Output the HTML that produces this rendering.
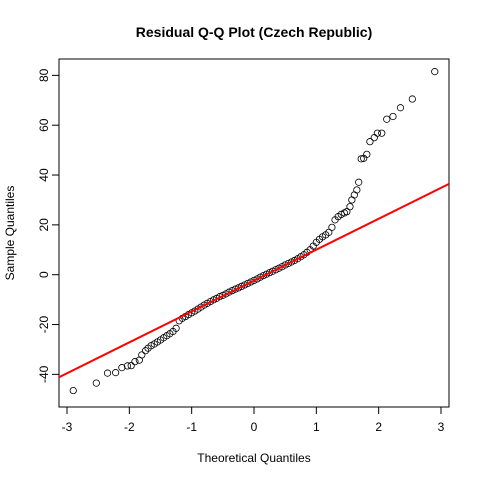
<!DOCTYPE html>
<html><head><meta charset="utf-8"><style>body{margin:0;background:#fff}svg{display:block;font-family:"Liberation Sans",Arial,sans-serif}</style></head>
<body>
<svg id="chart" width="480" height="480" viewBox="0 0 480 480"></svg>
<script>
const xTicks=[-3,-2,-1,0,1,2,3];
const yTicks=[-40,-20,0,20,40,60,80];
const theo=[-2.90,-2.53,-2.35,-2.22,-2.12,-2.03,-1.97,-1.91,-1.84,-1.80,-1.74,
-1.70,-1.65,-1.60,-1.55,-1.50,-1.45,-1.40,-1.35,-1.30,-1.25,-1.20,-1.15,-1.10,-1.05,-1.00,-0.95,-0.90,-0.85,-0.80,-0.75,-0.70,-0.65,-0.60,-0.55,-0.50,-0.45,-0.40,-0.35,-0.30,-0.25,-0.20,-0.15,-0.10,-0.05,0.00,0.05,0.10,0.15,0.20,0.25,0.30,0.35,0.40,0.45,0.50,0.55,0.60,0.65,0.70,0.75,0.80,0.85,0.90,0.95,1.00,1.05,1.10,1.15,1.20,1.25,1.30,1.35,1.40,1.45,
1.49,1.54,1.57,1.61,1.65,1.68,1.72,1.76,1.81,1.86,1.93,1.98,2.05,2.13,2.23,2.35,2.54,2.90];
const sample=[-46.5,-43.5,-39.5,-39.3,-37.3,-36.6,-36.5,-34.9,-34.3,-32.2,-30.5,
-29.5,-28.5,-27.8,-27,-26.2,-25.3,-24.5,-23.7,-22.8,-21.5,-18.5,-17.5,-16.8,-16,-15.3,-14.6,-13.8,-13,-12.2,-11.5,-10.8,-10.1,-9.5,-8.8,-8.3,-7.7,-7.0,-6.4,-5.8,-5.3,-4.7,-4.1,-3.5,-2.9,-2.3,-1.7,-1.0,-0.4,0.2,0.8,1.4,2.0,2.6,3.2,3.9,4.5,5.1,5.7,6.4,7.2,8.0,9.0,10.0,11.5,13,14.2,15.2,16,17,19,22,23.3,24.2,24.8,
25.3,27.3,30,32,34,37.1,46.5,46.7,48.3,53.4,55,56.8,56.8,62.4,63.5,67,70.5,81.5];
const lineIntercept=-2.35, lineSlope=12.4;
const NS="http://www.w3.org/2000/svg";
const svg=document.getElementById('chart');
const L=59,R=449,T=59,B=407;
const sx=v=>254+v*62.33;
const sy=v=>274.7-v*2.4917;
function mk(tag,attrs,parent){const e=document.createElementNS(NS,tag);for(const k in attrs)e.setAttribute(k,attrs[k]);(parent||svg).appendChild(e);return e;}
let t=mk('text',{x:254,y:37,'text-anchor':'middle','font-size':14,'font-weight':'bold'});t.textContent='Residual Q-Q Plot (Czech Republic)';


t=mk('text',{x:254,y:462,'text-anchor':'middle','font-size':12});t.textContent='Theoretical Quantiles';


t=mk('text',{x:0,y:0,'text-anchor':'middle','font-size':12,transform:'translate(14,233) rotate(-90)'});t.textContent='Sample Quantiles';


const xa=mk('g',{});


mk('line',{x1:sx(xTicks[0]),x2:sx(xTicks[xTicks.length-1]),y1:B,y2:B,stroke:'#000'},xa);
xTicks.forEach(v=>{mk('line',{x1:sx(v),x2:sx(v),y1:B,y2:B+7,stroke:'#000'},xa);const tx=mk('text',{x:sx(v),y:B+24,'text-anchor':'middle','font-size':12},xa);tx.textContent=v;

});
const ya=mk('g',{});


mk('line',{x1:L,x2:L,y1:sy(yTicks[0]),y2:sy(yTicks[yTicks.length-1]),stroke:'#000'},ya);
yTicks.forEach(v=>{mk('line',{x1:L,x2:L-7,y1:sy(v),y2:sy(v),stroke:'#000'},ya);const tx=mk('text',{x:0,y:0,'text-anchor':'middle','font-size':12,transform:`translate(${L-11},${sy(v)}) rotate(-90)`},ya);tx.textContent=v;

});
const box=mk('rect',{x:L,y:T,width:R-L,height:B-T,fill:'none',stroke:'#000'});


const pts=mk('g',{});


theo.forEach((v,i)=>{const c=mk('circle',{cx:sx(v),cy:sy(sample[i]),r:3.2,fill:'none',stroke:'#000','stroke-width':0.8},pts);

});
const clip=mk('clipPath',{id:'cp'});mk('rect',{x:L,y:T,width:R-L,height:B-T},clip);
const xl=(L-254)/62.33,xr=(R-254)/62.33;
const ln=mk('line',{x1:L,x2:R,y1:sy(lineIntercept+lineSlope*xl),y2:sy(lineIntercept+lineSlope*xr),stroke:'#f00','stroke-width':2,'clip-path':'url(#cp)'});


</script>
</body></html>
